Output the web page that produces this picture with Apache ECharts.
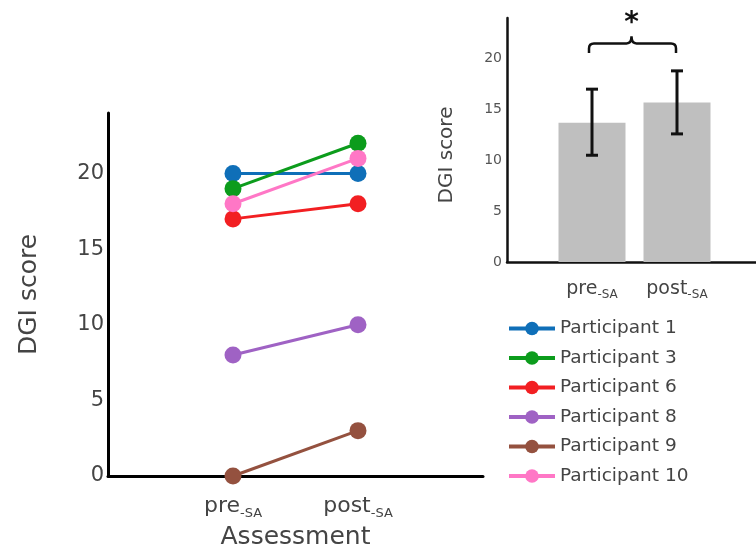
<!DOCTYPE html>
<html>
<head>
<meta charset="utf-8">
<script src="https://cdn.jsdelivr.net/npm/echarts@6/dist/echarts.min.js"></script>
<style>
html,body{margin:0;padding:0;background:#fff;}
#c{width:756px;height:548px;}
</style>
</head>
<body>
<div id="c"></div>
<script>
// ---- data ----
const categories = ['pre', 'post'];
const participants = ['Participant 1', 'Participant 3', 'Participant 6', 'Participant 8', 'Participant 9', 'Participant 10'];
const preScores = [20, 19, 17, 8, 0, 18];
const postScores = [20, 22, 18, 10, 3, 21];
const lineColors = ['#0f6fb8', '#0c9c1c', '#f21f22', '#9f62c4', '#94513f', '#ff77c6'];
const barMeans = [13.7, 15.7];
const errLow = [10.5, 12.6];
const errHigh = [17.0, 18.8];
const significance = [{ from: 1, to: 2, label: '*' }];
const yTicks = [0, 5, 10, 15, 20];

const FONT = 'DejaVu Sans';
const chart = echarts.init(document.getElementById('c'), null, { renderer: 'canvas' });

function catLabel(v) {
  const name = categories[v - 1];
  return name ? '{a|' + name + '}{b|-SA}' : '';
}
function yLabel(v) { return yTicks.indexOf(v) >= 0 ? String(v) : ''; }

const series = [];
participants.forEach((p, i) => {
  series.push({
    name: p,
    type: 'line',
    xAxisIndex: 0, yAxisIndex: 0,
    data: [[1, preScores[i]], [2, postScores[i]]],
    symbol: 'circle',
    symbolSize: 17,
    lineStyle: { width: 3, color: lineColors[i] },
    itemStyle: { color: lineColors[i] },
    emphasis: { disabled: true },
    animation: false
  });
});

series.push({
  name: 'mean',
  type: 'bar',
  xAxisIndex: 1, yAxisIndex: 1,
  data: barMeans.map((v, i) => [i + 1, v]),
  barWidth: 67,
  itemStyle: { color: '#bfbfbf' },
  animation: false,
  z: 2
});

series.push({
  name: 'err',
  type: 'custom',
  xAxisIndex: 1, yAxisIndex: 1,
  data: errLow.map((lo, i) => [i + 1, lo, errHigh[i]]),
  renderItem: function (params, api) {
    const lo = api.coord([api.value(0), api.value(1)]);
    const hi = api.coord([api.value(0), api.value(2)]);
    const hw = 6;
    const st = { stroke: '#111', lineWidth: 3 };
    return {
      type: 'group',
      children: [
        { type: 'line', shape: { x1: lo[0], y1: lo[1], x2: hi[0], y2: hi[1] }, style: st },
        { type: 'line', shape: { x1: lo[0] - hw, y1: lo[1], x2: lo[0] + hw, y2: lo[1] }, style: st },
        { type: 'line', shape: { x1: hi[0] - hw, y1: hi[1], x2: hi[0] + hw, y2: hi[1] }, style: st }
      ]
    };
  },
  animation: false,
  z: 5
});

series.push({
  name: 'sig',
  type: 'custom',
  xAxisIndex: 1, yAxisIndex: 1,
  data: significance.map(s => [s.from, s.to, Math.max(...errHigh)]),
  renderItem: function (params, api) {
    const top = api.value(2);
    const a = api.coord([api.value(0), top + 1.75]);
    const b = api.coord([api.value(1), top + 1.75]);
    const yTop = api.coord([1, top + 2.7])[1];
    const yTip = api.coord([1, top + 3.4])[1];
    const xm = (a[0] + b[0]) / 2 - 3;
    const r = 5;
    const x1 = a[0] - 3, x2 = b[0] - 1;
    const path = 'M' + x1 + ' ' + a[1] +
      ' L' + x1 + ' ' + (yTop + r) +
      ' Q' + x1 + ' ' + yTop + ' ' + (x1 + r) + ' ' + yTop +
      ' L' + (xm - r) + ' ' + yTop +
      ' Q' + xm + ' ' + yTop + ' ' + xm + ' ' + yTip +
      ' Q' + xm + ' ' + yTop + ' ' + (xm + r) + ' ' + yTop +
      ' L' + (x2 - r) + ' ' + yTop +
      ' Q' + x2 + ' ' + yTop + ' ' + x2 + ' ' + (yTop + r) +
      ' L' + x2 + ' ' + b[1];
    const star = api.coord([1, top + 4.6]);
    return {
      type: 'group',
      children: [
        { type: 'path', shape: { pathData: path }, style: { stroke: '#111', lineWidth: 2.5, fill: null } },
        { type: 'text', x: xm, y: star[1], style: { text: significance[params.dataIndex].label, font: 'bold 28px ' + FONT, fill: '#111', align: 'center', verticalAlign: 'middle' } }
      ]
    };
  },
  animation: false,
  z: 5
});

const option = {
  backgroundColor: '#fff',
  animation: false,
  textStyle: { fontFamily: FONT },
  legend: {
    data: participants,
    orient: 'vertical',
    left: 502,
    top: 313,
    itemWidth: 46,
    itemHeight: 17,
    itemGap: 8.5,
    lineStyle: { width: 4 },
    textStyle: { fontFamily: FONT, fontSize: 18.5, color: '#444', lineHeight: 21 },
    selectedMode: false
  },
  grid: [
    { left: 108, top: 113, width: 375, height: 363, outerBoundsMode: 'none', containLabel: false },
    { left: 507, top: 18, width: 255, height: 244, outerBoundsMode: 'none', containLabel: false }
  ],
  xAxis: [
    {
      gridIndex: 0, type: 'value', min: 0, max: 3, interval: 1,
      axisLine: { show: true, lineStyle: { color: '#000', width: 3 } },
      axisTick: { show: false },
      splitLine: { show: false },
      axisLabel: {
        formatter: catLabel, margin: 17, color: '#444',
        rich: {
          a: { fontFamily: FONT, fontSize: 22, color: '#444', lineHeight: 26 },
          b: { fontFamily: FONT, fontSize: 13, color: '#444', padding: [14, 0, 0, 0] }
        }
      },
      name: 'Assessment', nameLocation: 'middle', nameGap: 49,
      nameTextStyle: { fontFamily: FONT, fontSize: 25, color: '#444' }
    },
    {
      gridIndex: 1, type: 'value', min: 0, max: 3, interval: 1,
      axisLine: { show: true, lineStyle: { color: '#111', width: 2.5 } },
      axisTick: { show: false },
      splitLine: { show: false },
      axisLabel: {
        formatter: catLabel, margin: 15, color: '#444',
        rich: {
          a: { fontFamily: FONT, fontSize: 19, color: '#444', lineHeight: 22 },
          b: { fontFamily: FONT, fontSize: 12, color: '#444', padding: [12, 0, 0, 0] }
        }
      }
    }
  ],
  yAxis: [
    {
      gridIndex: 0, type: 'value', min: 0, max: 24, interval: 5,
      axisLine: { show: true, lineStyle: { color: '#000', width: 3 } },
      axisTick: { show: false },
      splitLine: { show: false },
      axisLabel: { formatter: yLabel, fontFamily: FONT, fontSize: 21, color: '#444', margin: 4 },
      name: 'DGI score', nameLocation: 'middle', nameGap: 66,
      nameTextStyle: { fontFamily: FONT, fontSize: 25, color: '#444' }
    },
    {
      gridIndex: 1, type: 'value', min: 0, max: 24, interval: 5,
      axisLine: { show: true, lineStyle: { color: '#111', width: 2.5 } },
      axisTick: { show: false },
      splitLine: { show: false },
      axisLabel: { formatter: yLabel, fontFamily: FONT, fontSize: 14, color: '#555', margin: 5 },
      name: 'DGI score', nameLocation: 'middle', nameGap: 50,
      nameTextStyle: { fontFamily: FONT, fontSize: 20, color: '#444', padding: [0, 30, 0, 0] }
    }
  ],
  series: series
};
chart.setOption(option);
</script>
</body>
</html>
